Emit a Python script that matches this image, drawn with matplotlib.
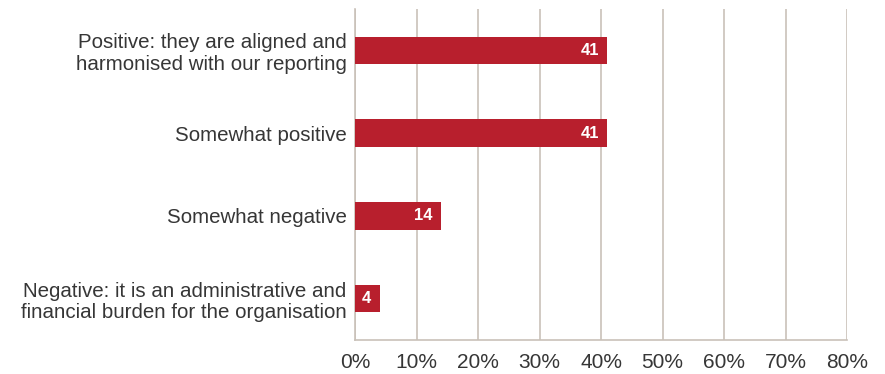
import matplotlib
matplotlib.use("Agg")
import matplotlib.pyplot as plt

categories = [
    "Positive: they are aligned and\nharmonised with our reporting",
    "Somewhat positive",
    "Somewhat negative",
    "Negative: it is an administrative and\nfinancial burden for the organisation",
]
values = [41, 41, 14, 4]
xticks = [0, 10, 20, 30, 40, 50, 60, 70, 80]
xtick_labels = [f"{t}%" for t in xticks]

bar_color = "#B81F2D"
grid_color = "#C9C1B9"
text_color = "#363636"

plt.rcParams["font.family"] = ["Liberation Sans", "DejaVu Sans"]

fig = plt.figure(figsize=(8.85, 3.74), dpi=100)
ax = fig.add_axes([355 / 885, 34 / 374, (847 - 355) / 885, (340 - 9) / 374])

ypos = list(range(len(categories)))
ax.barh(ypos, values, height=0.33, color=bar_color, zorder=3)

for y, v in zip(ypos, values):
    ax.annotate(str(v), xy=(v, y), xytext=(-6, 0), textcoords="offset points",
                ha="right", va="center", color="white", fontsize=12,
                fontweight="bold", zorder=4)

ax.set_xlim(0, 80)
ax.set_ylim(len(categories) - 0.5, -0.5)
ax.set_xticks(xticks)
ax.set_xticklabels(xtick_labels, fontsize=15, color=text_color)
ax.set_yticks(ypos)
ax.set_yticklabels(categories, fontsize=14.8, color=text_color, linespacing=1.17)

ax.grid(axis="x", color=grid_color, linewidth=1.2, zorder=0)
ax.tick_params(axis="both", length=0)
ax.tick_params(axis="x", pad=9)
ax.tick_params(axis="y", pad=6)

for side in ["top", "right"]:
    ax.spines[side].set_visible(False)
for side in ["left", "bottom"]:
    ax.spines[side].set_color(grid_color)
    ax.spines[side].set_linewidth(1.2)

fig.savefig("out.png", dpi=100, facecolor="white")
